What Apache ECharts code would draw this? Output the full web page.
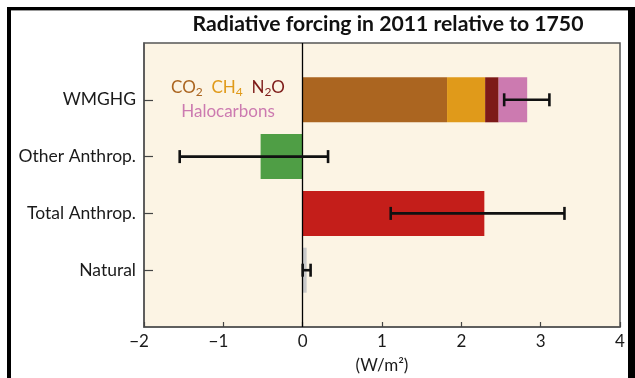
<!DOCTYPE html>
<html>
<head>
<meta charset="utf-8">
<script src="https://cdn.jsdelivr.net/npm/echarts@6/dist/echarts.min.js"></script>
<style>
html,body{margin:0;padding:0;background:#fff;}
#c{width:635px;height:378px;}
</style>
</head>
<body>
<div id="c"></div>
<script>
// ---- data ----
const categories = ['WMGHG', 'Other Anthrop.', 'Total Anthrop.', 'Natural'];
const ghgNames = ['CO2', 'CH4', 'N2O', 'Halocarbons'];
const ghgValues = [1.82, 0.48, 0.17, 0.36];          // WMGHG components (stacked)
const singleCats = ['Other Anthrop.', 'Total Anthrop.', 'Natural'];
const singleValues = [-0.53, 2.29, 0.05];
const errLow = [2.54, -1.55, 1.11, 0.00];
const errHigh = [3.11, 0.32, 3.30, 0.10];
const xTicks = [-2, -1, 0, 1, 2, 3, 4];
const title = 'Radiative forcing in 2011 relative to 1750';
const unitLabel = '(W/m²)';

// ---- styles ----
const FONT = 'Lato';
const TFONT = 'Lato';
const ghgColors = ['#ab6520', '#e09a1a', '#7d1a18', '#cc7ab0'];
const singleColors = ['#4f9e45', '#c41e1a', '#c9c9c9'];

const padded = [''].concat(categories, ['']);
function idx(cat) { return padded.indexOf(cat); }

const series = [];
ghgNames.forEach((n, i) => {
  const d = padded.map(() => null);
  d[idx('WMGHG')] = ghgValues[i];
  series.push({
    name: n, type: 'bar', stack: 'all', barWidth: 45,
    itemStyle: { color: ghgColors[i] }, data: d, silent: true
  });
});
const sd = padded.map(() => null);
singleCats.forEach((c, i) => {
  sd[idx(c)] = { value: singleValues[i], itemStyle: { color: singleColors[i] } };
});
series.push({
  name: 'single', type: 'bar', stack: 'all', barWidth: 45, data: sd, silent: true,
  markLine: {
    silent: true, symbol: 'none', label: { show: false },
    lineStyle: { color: '#000', width: 1.3, type: 'solid' },
    data: [{ xAxis: 0 }], z: 10
  }
});
series.push({
  type: 'custom', z: 20, silent: true,
  encode: { x: [0, 1], y: 2 },
  data: categories.map((c, i) => [errLow[i], errHigh[i], idx(c)]),
  renderItem: function (params, api) {
    const cat = api.value(2);
    const p1 = api.coord([api.value(0), cat]);
    const p2 = api.coord([api.value(1), cat]);
    const h = 6.5;
    const st = { stroke: '#111', lineWidth: 2.6 };
    return {
      type: 'group', children: [
        { type: 'line', shape: { x1: p1[0], y1: p1[1], x2: p2[0], y2: p2[1] }, style: st },
        { type: 'line', shape: { x1: p1[0], y1: p1[1] - h, x2: p1[0], y2: p1[1] + h }, style: st },
        { type: 'line', shape: { x1: p2[0], y1: p2[1] - h, x2: p2[0], y2: p2[1] + h }, style: st }
      ]
    };
  }
});

const chart = echarts.init(document.getElementById('c'), null, { renderer: 'canvas' });
chart.setOption({
  animation: false,
  backgroundColor: '#fff',
  title: {
    text: title, left: 383, top: 9, textAlign: 'center',
    textStyle: { fontFamily: TFONT, fontWeight: 'bold', fontSize: 21.2, color: '#111' }
  },
  grid: {
    left: 144, top: 43, width: 476, height: 284,
    containLabel: false, outerBoundsMode: 'none',
    show: true, backgroundColor: '#fcf4e4', borderColor: '#555', borderWidth: 1.5
  },
  xAxis: {
    type: 'value', min: xTicks[0], max: xTicks[xTicks.length - 1], interval: 1,
    splitLine: { show: false },
    axisLine: { show: true, onZero: false, lineStyle: { color: '#555', width: 1.5 } },
    axisTick: { show: true, inside: true, length: 5, lineStyle: { color: '#444', width: 1.2 } },
    axisLabel: {
      margin: 6, fontFamily: FONT, fontSize: 17, color: '#1a1a1a',
      formatter: function (v) {
        if (v < 0) return '{m|\u2212}' + Math.abs(v) + '{h|\u2212}';
        return String(v);
      },
      rich: {
        m: { fontFamily: FONT, fontSize: 17, color: '#1a1a1a' },
        h: { fontFamily: FONT, fontSize: 17, color: 'rgba(0,0,0,0)' }
      }
    },
    name: unitLabel, nameLocation: 'middle', nameGap: 30,
    nameTextStyle: { fontFamily: FONT, fontSize: 17, color: '#1a1a1a' }
  },
  yAxis: {
    type: 'category', data: padded, inverse: true, boundaryGap: false,
    axisLine: { show: true, onZero: false, lineStyle: { color: '#555', width: 1.5 } },
    axisTick: {
      show: true, inside: true, length: 9, lineStyle: { color: '#444', width: 1.2 },
      interval: function (i, v) { return v !== ''; }
    },
    axisLabel: { margin: 8, fontFamily: FONT, fontSize: 17.5, color: '#1a1a1a', interval: 0 },
    splitLine: { show: false }
  },
  series: series,
  graphic: [
    { type: 'rect', shape: { x: 7, y: 7, width: 628, height: 3 }, style: { fill: '#000' } },
    { type: 'rect', shape: { x: 11, y: 10, width: 617, height: 1 }, style: { fill: '#999' } },
    { type: 'rect', shape: { x: 7, y: 7, width: 4, height: 371 }, style: { fill: '#000' } },
    { type: 'rect', shape: { x: 628, y: 7, width: 7, height: 371 }, style: { fill: '#000' } },
    {
      type: 'text', x: 228, y: 88, z: 30,
      style: {
        text: '{a|CO}{as|2}{sp|  }{b|CH}{bs|4}{sp|  }{c|N}{cs|2}{c|O}',
        align: 'center', verticalAlign: 'middle',
        rich: {
          a: { fontFamily: TFONT, fontSize: 17, fill: ghgColors[0] },
          as: { fontFamily: TFONT, fontSize: 12, fill: ghgColors[0], padding: [9, 0, 0, 0] },
          b: { fontFamily: TFONT, fontSize: 17, fill: ghgColors[1] },
          bs: { fontFamily: TFONT, fontSize: 12, fill: ghgColors[1], padding: [9, 0, 0, 0] },
          c: { fontFamily: TFONT, fontSize: 17, fill: ghgColors[2] },
          cs: { fontFamily: TFONT, fontSize: 12, fill: ghgColors[2], padding: [9, 0, 0, 0] },
          sp: { fontFamily: TFONT, fontSize: 17 }
        }
      }
    },
    {
      type: 'text', x: 228, y: 112, z: 30,
      style: {
        text: ghgNames[3], align: 'center', verticalAlign: 'middle',
        fontFamily: TFONT, fontSize: 17, fill: ghgColors[3]
      }
    }
  ]
});
</script>
</body>
</html>
